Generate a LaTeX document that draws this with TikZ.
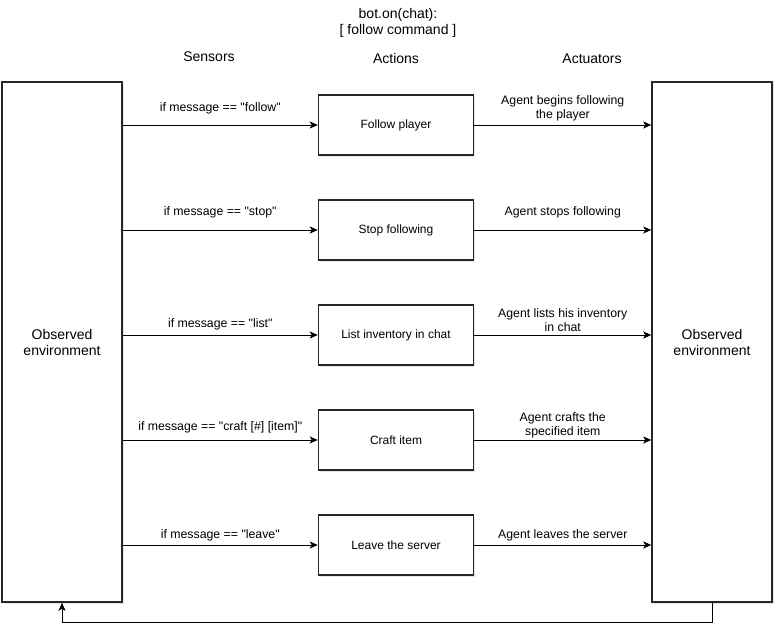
\documentclass[tikz,border=0pt]{standalone}
\usepackage{fontspec}
\setmainfont{Liberation Sans}
\usetikzlibrary{arrows.meta,positioning,shadows}
\newcommand{\dq}[1]{\textquotedbl#1\textquotedbl}

\begin{document}
\begin{tikzpicture}[
  x=1pt, y=-1pt,
  node distance=43.5pt,
  box/.style={draw=black!85, line width=1.5pt, fill=white,
    minimum width=155pt, minimum height=60pt, align=center,
    font=\fontsize{12}{14}\selectfont,
    drop shadow={opacity=0.2, shadow xshift=1.5pt, shadow yshift=-1.5pt}},
  envbox/.style={box, minimum width=120pt, minimum height=520pt,
    font=\fontsize{14}{16}\selectfont},
  arrow/.style={-{Stealth[length=8pt, width=7pt, inset=2pt]}, line width=0.8pt},
  lbl/.style={midway, yshift=#1, align=center, inner sep=1pt,
    font=\fontsize{12.3}{14}\selectfont},
  lbl/.default=17pt,
  header/.style={align=center, font=\fontsize{14}{16}\selectfont}
]
  \useasboundingbox (0,0) rectangle (783,642);
  % Headers
  \node[header] (title) at (398,23) {bot.on(chat):\\{[} follow command ]};
  \node[header] (sensors) at (209,57) {Sensors};
  \node[header] (actions) at (396,58) {Actions};
  \node[header] (actuators) at (592,59) {Actuators};
  % Environment
  \node[envbox] (envin) at (62,342) {Observed\\environment};
  \node[envbox] (envout) at (712,342) {Observed\\environment};
  % Actions
  \node[box] (follow) at (396,125) {Follow player};
  \node[box, below=of follow] (stop) {Stop following};
  \node[box, below=of stop] (list) {List inventory in chat};
  \node[box, below=of list] (craft) {Craft item};
  \node[box, below=of craft] (leave) {Leave the server};
  % Sensor arrows
  \draw[arrow] (envin.east |- follow) -- (follow)
    node[lbl] {if message == \dq{follow}};
  \draw[arrow] (envin.east |- stop) -- (stop)
    node[lbl=18pt] {if message == \dq{stop}};
  \draw[arrow] (envin.east |- list) -- (list)
    node[lbl=10.5pt] {if message == \dq{list}};
  \draw[arrow] (envin.east |- craft) -- (craft)
    node[lbl=12.5pt] {if message == \dq{craft [\#] [item]}};
  \draw[arrow] (envin.east |- leave) -- (leave)
    node[lbl=9.5pt] {if message == \dq{leave}};
  % Actuator arrows
  \draw[arrow] (follow) -- (envout.west |- follow)
    node[lbl] {Agent begins following\\the player};
  \draw[arrow] (stop) -- (envout.west |- stop)
    node[lbl=18pt] {Agent stops following};
  \draw[arrow] (list) -- (envout.west |- list)
    node[lbl=14.5pt] {Agent lists his inventory\\in chat};
  \draw[arrow] (craft) -- (envout.west |- craft)
    node[lbl=15pt] {Agent crafts the\\specified item};
  \draw[arrow] (leave) -- (envout.west |- leave)
    node[lbl=9.5pt] {Agent leaves the server};
  % Feedback
  \draw[arrow] (envout.south) -- ++(0,20) -| (envin.south);
\end{tikzpicture}
\end{document}
